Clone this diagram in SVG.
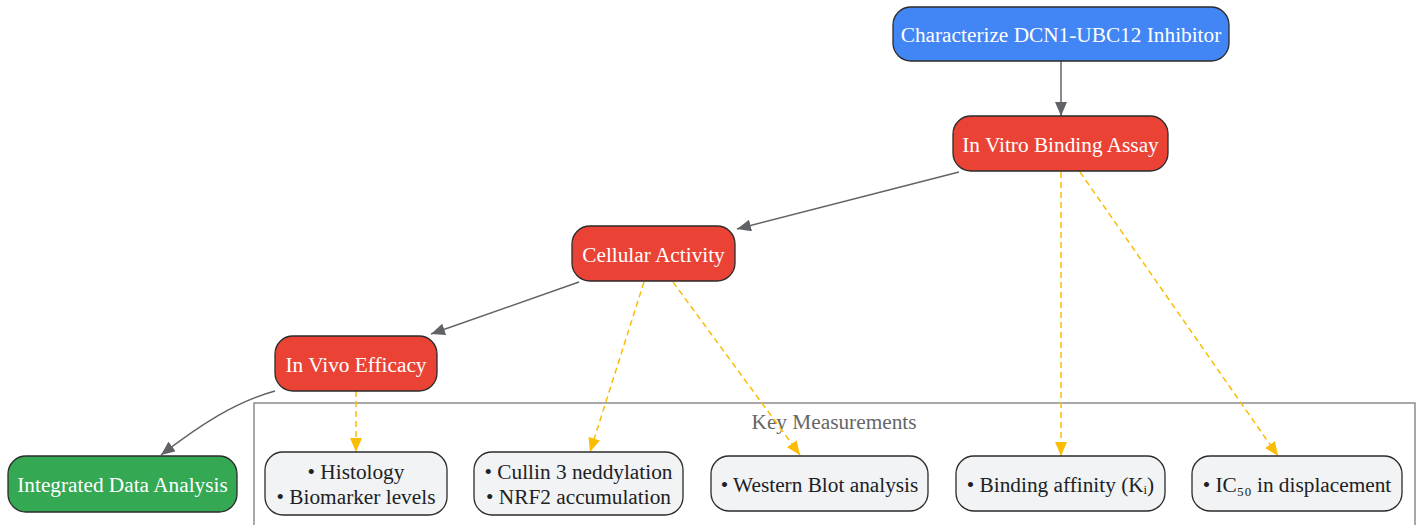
<svg xmlns="http://www.w3.org/2000/svg" width="1420" height="525" viewBox="0 0 1420 525">
<style>
.n rect{stroke:#2b2b2b;stroke-width:1.3}
.blue rect{fill:#4285F4}
.red rect{fill:#EA4335}
.green rect{fill:#34A853}
.light rect{fill:#F1F3F4}
text{font-family:"Liberation Serif","Times New Roman",serif;font-size:21.3px;text-anchor:middle}
.w{fill:#ffffff}
.d{fill:#202124}
.e{fill:none;stroke:#5f6368;stroke-width:1.5}
.y{fill:none;stroke:#FBBC05;stroke-width:1.5;stroke-dasharray:6,4}
</style>
<defs>
<marker id="ag" viewBox="0 0 14 12" refX="14" refY="6" markerWidth="14" markerHeight="12" markerUnits="userSpaceOnUse" orient="auto">
<path d="M0,0 L14,6 L0,12 z" fill="#5f6368"/>
</marker>
<marker id="ay" viewBox="0 0 14 12" refX="14" refY="6" markerWidth="14" markerHeight="12" markerUnits="userSpaceOnUse" orient="auto">
<path d="M0,0 L14,6 L0,12 z" fill="#FBBC05"/>
</marker>
</defs>
<rect width="1420" height="525" fill="#ffffff"/>
<g id="cluster">
<rect x="254" y="403" width="1161" height="130" fill="none" stroke="#7a7a7a" stroke-width="1.3"/>
<text x="834" y="429" fill="#666666">Key Measurements</text>
</g>
<g id="edges">
<path class="e" d="M1061,61 L1061,116" marker-end="url(#ag)"/>
<path class="e" d="M959,172 L737,229" marker-end="url(#ag)"/>
<path class="e" d="M579,282 L431,334" marker-end="url(#ag)"/>
<path class="e" d="M275,391 C235,402 200,425 161,455" marker-end="url(#ag)"/>
<path class="y" d="M356,391 L356,452" marker-end="url(#ay)"/>
<path class="y" d="M644,282 L590,452" marker-end="url(#ay)"/>
<path class="y" d="M673,282 L800,455" marker-end="url(#ay)"/>
<path class="y" d="M1061,172 L1061,456" marker-end="url(#ay)"/>
<path class="y" d="M1080,172 L1278,456" marker-end="url(#ay)"/>
</g>
<g id="top" class="n blue">
<rect x="893" y="7" width="336" height="54" rx="18"/>
<text class="w" x="1061" y="42">Characterize DCN1-UBC12 Inhibitor</text>
</g>
<g id="invitro" class="n red">
<rect x="953" y="116" width="215" height="55" rx="18"/>
<text class="w" x="1060.5" y="152">In Vitro Binding Assay</text>
</g>
<g id="cellular" class="n red">
<rect x="572" y="226" width="163" height="55" rx="18"/>
<text class="w" x="653.5" y="262">Cellular Activity</text>
</g>
<g id="invivo" class="n red">
<rect x="275" y="336" width="162" height="55" rx="18"/>
<text class="w" x="356" y="372">In Vivo Efficacy</text>
</g>
<g id="integrated" class="n green">
<rect x="8" y="456" width="229" height="56" rx="18"/>
<text class="w" x="122.5" y="492">Integrated Data Analysis</text>
</g>
<g id="histology" class="n light">
<rect x="265" y="452" width="182" height="63" rx="18"/>
<text class="d" x="356" y="479">• Histology</text>
<text class="d" x="356" y="504">• Biomarker levels</text>
</g>
<g id="cullin" class="n light">
<rect x="474" y="452" width="209" height="63" rx="18"/>
<text class="d" x="578.5" y="479">• Cullin 3 neddylation</text>
<text class="d" x="578.5" y="504">• NRF2 accumulation</text>
</g>
<g id="western" class="n light">
<rect x="711" y="456" width="217" height="55" rx="18"/>
<text class="d" x="819.5" y="492">• Western Blot analysis</text>
</g>
<g id="binding" class="n light">
<rect x="956" y="456" width="209" height="55" rx="18"/>
<text class="d" x="1060.5" y="492">• Binding affinity (Kᵢ)</text>
</g>
<g id="ic50" class="n light">
<rect x="1192" y="456" width="210" height="55" rx="18"/>
<text class="d" x="1297" y="492">• IC₅₀ in displacement</text>
</g>
</svg>
